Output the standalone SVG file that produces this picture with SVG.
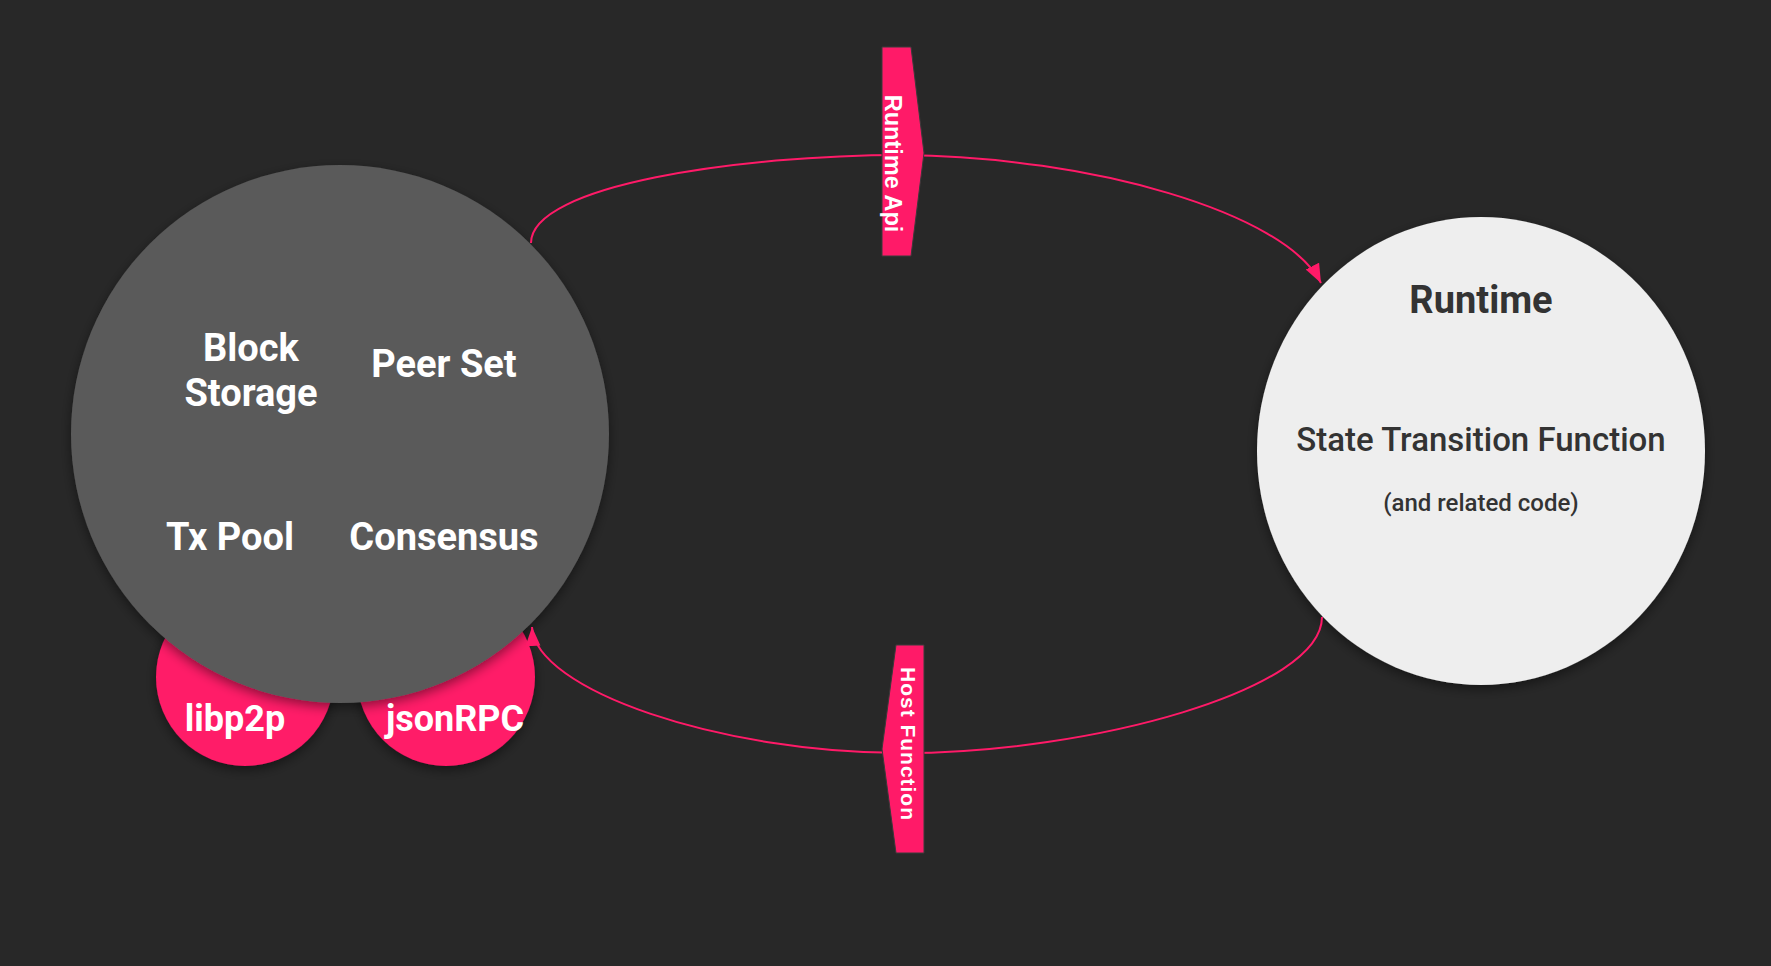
<svg xmlns="http://www.w3.org/2000/svg" width="1771" height="966" viewBox="0 0 1771 966">
<defs>
<style>
.bg{fill:#282828}
.host{fill:#5a5a5a}
.pink{fill:#ff1a68}
.rt{fill:#eeeeee}
.wt{font-family:Roboto,"Liberation Sans",sans-serif;font-weight:bold;fill:#ffffff;text-anchor:middle}
.dt{font-family:Roboto,"Liberation Sans",sans-serif;fill:#333333;text-anchor:middle}
.bt{font-family:"Liberation Sans",Arial,sans-serif;font-weight:bold;fill:#ffffff;text-anchor:middle}
.conn{fill:none;stroke:#ff1a68;stroke-width:2}
</style>
<filter id="sh" x="-20%" y="-20%" width="140%" height="140%">
<feDropShadow dx="0" dy="4" stdDeviation="6" flood-color="#000000" flood-opacity="0.45"/>
</filter>
<marker id="arr" markerUnits="userSpaceOnUse" markerWidth="22" markerHeight="18" refX="19" refY="7.5" orient="auto">
<path d="M0,0 L19,7.5 L0,15 Z" fill="#ff1a68"/>
</marker>
</defs>
<rect class="bg" x="0" y="0" width="1771" height="966"/>

<g id="libp2p">
<circle class="pink" cx="245" cy="677" r="89" filter="url(#sh)"/>
</g>
<g id="jsonRPC">
<circle class="pink" cx="446" cy="677" r="89" filter="url(#sh)"/>
</g>
<g id="host">
<circle class="host" cx="340" cy="434" r="269" filter="url(#sh)"/>
<text class="wt" x="251" y="361" font-size="38">Block</text>
<text class="wt" x="251" y="406" font-size="38">Storage</text>
<text class="wt" x="444" y="377" font-size="38">Peer Set</text>
<text class="wt" x="230" y="550" font-size="38">Tx Pool</text>
<text class="wt" x="444" y="550" font-size="38">Consensus</text>
</g>
<g id="libp2p-label">
<text class="wt" x="235" y="731" font-size="36">libp2p</text>
</g>
<g id="jsonRPC-label">
<text class="wt" x="455" y="731" font-size="36">jsonRPC</text>
</g>

<g id="runtime">
<ellipse class="rt" cx="1481" cy="451" rx="224" ry="234" filter="url(#sh)"/>
<text class="dt" x="1481" y="313" font-size="38" font-weight="bold">Runtime</text>
<text class="dt" x="1481" y="451" font-size="33" font-weight="500">State Transition Function</text>
<text class="dt" x="1481" y="511" font-size="24" font-weight="500">(and related code)</text>
</g>

<g id="connectors">
<path class="conn" d="M531,243 C531,185 740,155 903,155 C1090,157 1285,212 1321,283" marker-end="url(#arr)"/>
<path class="conn" d="M1322,617 C1322,690 1090,753 903,753 C720,753 535,690 532,627" marker-end="url(#arr)"/>
</g>

<g id="runtime-api">
<polygon class="pink" points="882,47 911,47 924,153 911,256 882,256" stroke="#3a3a3a" stroke-width="1"/>
<text class="bt" font-size="23.5" transform="translate(885,163.5) rotate(90)">Runtime Api</text>
</g>
<g id="host-function">
<polygon class="pink" points="896,645 924,645 924,853 896,853 882,749" stroke="#3a3a3a" stroke-width="1"/>
<text class="bt" font-size="21" textLength="153" lengthAdjust="spacing" transform="translate(901,743.5) rotate(90)">Host Function</text>
</g>
</svg>
